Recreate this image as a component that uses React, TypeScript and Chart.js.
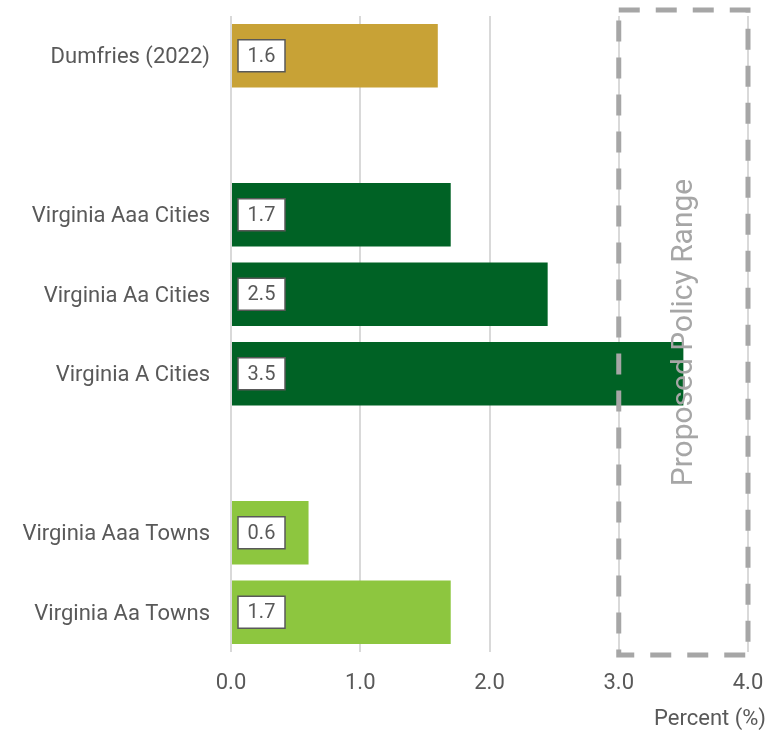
import React, { useEffect, useRef } from "react";
import { Chart, registerables } from "chart.js";

Chart.register(...registerables);

const categories = [
  "Dumfries (2022)",
  "",
  "Virginia Aaa Cities",
  "Virginia Aa Cities",
  "Virginia A Cities",
  "",
  "Virginia Aaa Towns",
  "Virginia Aa Towns",
];
const values: (number | null)[] = [1.6, null, 1.7, 2.45, 3.5, null, 0.6, 1.7];
const valueLabels = ["1.6", "", "1.7", "2.5", "3.5", "", "0.6", "1.7"];
const barColors = ["#C8A236", "#FFFFFF", "#006225", "#006225", "#006225", "#FFFFFF", "#8DC63F", "#8DC63F"];
const xTicks = [0, 1, 2, 3, 4];
const policyRange = [3.0, 4.0];
const policyLabel = "Proposed Policy Range";
const xTitle = "Percent (%)";

const FONT = "Roboto, 'Liberation Sans', sans-serif";

const labelPlugin = {
  id: "valueBoxes",
  afterDatasetsDraw(chart: any) {
    const ctx = chart.ctx;
    const meta = chart.getDatasetMeta(0);
    ctx.save();
    meta.data.forEach((bar: any, i: number) => {
      if (values[i] == null) return;
      const x0 = chart.scales.x.getPixelForValue(0);
      const y = bar.y;
      const bx = x0 + 7;
      const bw = 47;
      const bh = 32;
      ctx.fillStyle = "#FFFFFF";
      ctx.fillRect(bx, y - bh / 2, bw, bh);
      ctx.strokeStyle = "#595959";
      ctx.lineWidth = 1.5;
      ctx.strokeRect(bx, y - bh / 2, bw, bh);
      ctx.fillStyle = "#595959";
      ctx.font = `20px ${FONT}`;
      ctx.textAlign = "center";
      ctx.textBaseline = "middle";
      ctx.fillText(valueLabels[i], bx + bw / 2, y + 1);
    });
    ctx.restore();
  },
};

const policyPlugin = {
  id: "policyBox",
  afterDatasetsDraw(chart: any) {
    const ctx = chart.ctx;
    const xs = chart.scales.x;
    const area = chart.chartArea;
    const left = xs.getPixelForValue(policyRange[0]);
    const right = xs.getPixelForValue(policyRange[1]);
    const top = area.top - 6;
    const bottom = area.bottom + 3;
    ctx.save();
    ctx.strokeStyle = "#A6A6A6";
    ctx.lineWidth = 5;
    ctx.setLineDash([21, 16]);
    ctx.strokeRect(left, top, right - left, bottom - top);
    ctx.setLineDash([]);
    ctx.translate((left + right) / 2 + 1, (top + bottom) / 2);
    ctx.rotate(-Math.PI / 2);
    ctx.fillStyle = "#A6A6A6";
    ctx.font = `30px ${FONT}`;
    ctx.textAlign = "center";
    ctx.textBaseline = "middle";
    ctx.fillText(policyLabel, 0, 0);
    ctx.restore();

    // x-axis title
    ctx.save();
    ctx.fillStyle = "#595959";
    ctx.font = `22px ${FONT}`;
    ctx.textAlign = "right";
    ctx.textBaseline = "middle";
    ctx.fillText(xTitle, chart.width - 12, 719);
    ctx.restore();
  },
};

export default function App() {
  const ref = useRef<HTMLCanvasElement | null>(null);
  useEffect(() => {
    if (!ref.current) return;
    const chart = new Chart(ref.current, {
      type: "bar",
      data: {
        labels: categories,
        datasets: [
          {
            data: values as any,
            backgroundColor: barColors,
            borderWidth: 0,
            barPercentage: 0.8,
            categoryPercentage: 1,
          },
        ],
      },
      options: {
        indexAxis: "y",
        animation: false,
        responsive: true,
        maintainAspectRatio: false,
        layout: { padding: { top: 16, right: 30, left: 0, bottom: 0 } },
        plugins: { legend: { display: false }, tooltip: { enabled: false } },
        scales: {
          x: {
            min: 0,
            max: 4,
            afterBuildTicks(scale: any) {
              scale.ticks = xTicks.map((v) => ({ value: v }));
            },
            afterFit(scale: any) {
              scale.height = 81;
              scale.paddingLeft = 0;
              scale.paddingRight = 0;
            },
            ticks: {
              color: "#595959",
              font: { family: FONT, size: 22 },
              padding: 18,
              maxRotation: 0,
              callback: (v: any) => Number(v).toFixed(1),
            },
            grid: { color: "#D9D9D9", lineWidth: 2, drawTicks: false },
            border: { display: false },
          },
          y: {
            afterFit(scale: any) {
              scale.width = 231;
              scale.paddingTop = 0;
              scale.paddingBottom = 0;
            },
            ticks: {
              color: "#595959",
              font: { family: FONT, size: 22 },
              padding: 21,
              labelOffset: 2,
            },
            grid: { display: false, drawTicks: false },
            border: { display: false },
          },
        },
      },
      plugins: [labelPlugin, policyPlugin],
    });
    return () => chart.destroy();
  }, []);
  return (
    <div style={{ position: "absolute", left: 0, top: 0, width: 778, height: 733 }}>
      <canvas ref={ref} />
    </div>
  );
}
